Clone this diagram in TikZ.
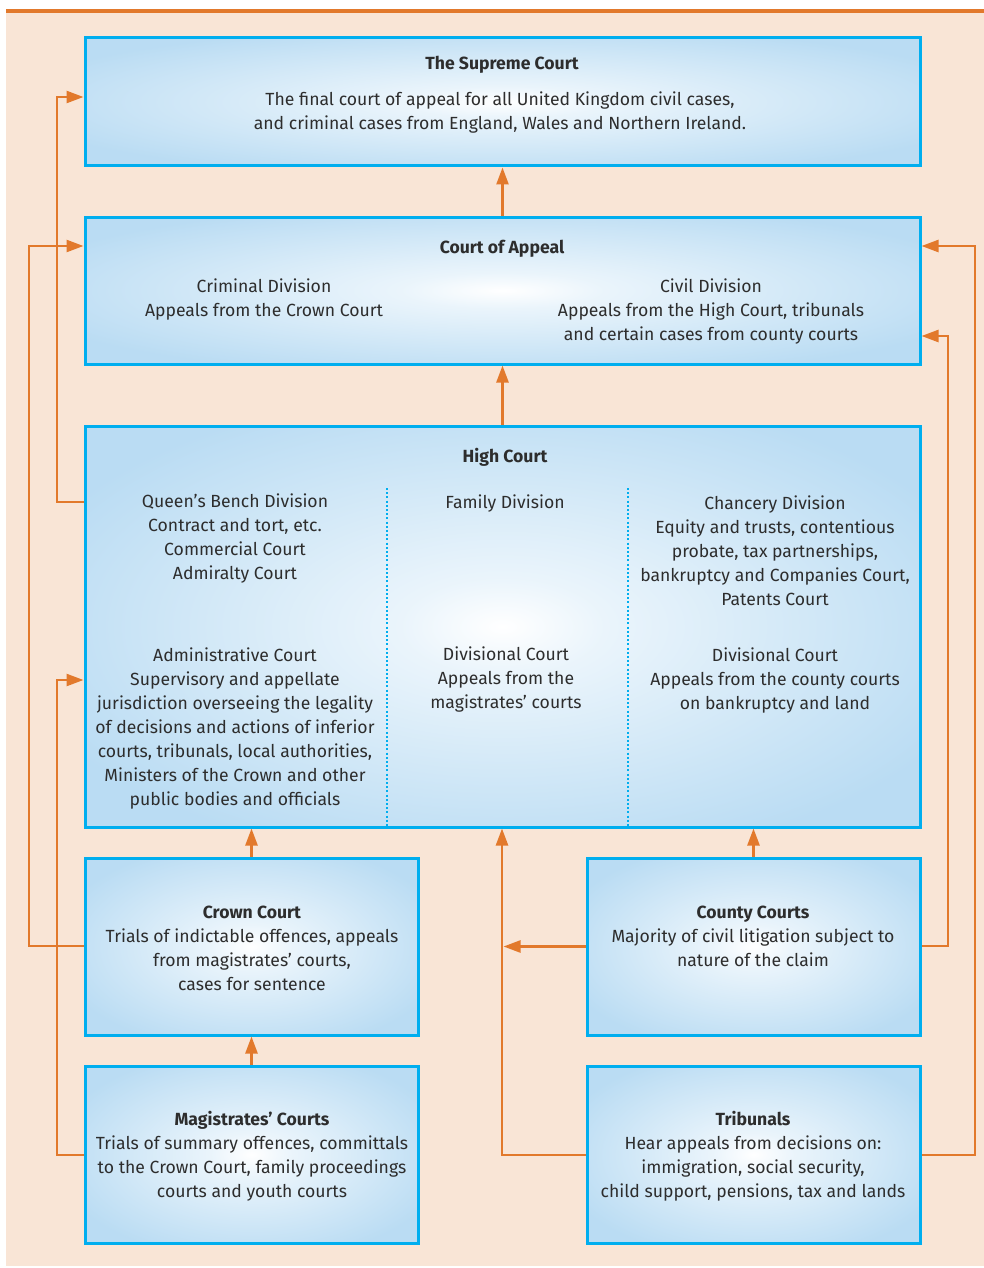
\documentclass[tikz,border=0pt]{standalone}
\usepackage{fontspec}
\setmainfont{Fira Sans}
\usetikzlibrary{arrows.meta}
\definecolor{peach}{RGB}{249,229,214}
\definecolor{corange}{RGB}{226,121,44}
\definecolor{ccyan}{RGB}{0,174,239}
\definecolor{boxblue}{RGB}{186,220,243}
\definecolor{txt}{RGB}{45,45,45}
\pgfdeclareradialshading{boxshade}{\pgfpoint{0bp}{0bp}}{color(0bp)=(white); color(6bp)=(white!70!boxblue); color(30bp)=(boxblue); color(80bp)=(boxblue)}
\begin{document}
\begin{tikzpicture}[x=1pt,y=-1pt,
  font=\fontsize{17.6}{24}\selectfont,
  box/.style={draw=ccyan, line width=3pt, shading=boxshade, inner sep=0pt, rectangle},
  txtn/.style={align=center, text=txt, inner sep=0pt},
  hd/.style={txtn, font=\fontsize{17.6}{24}\selectfont\bfseries},
  arr/.style={draw=corange, line width=2.5pt, -{Triangle[length=17pt,width=12pt]}},
  dots/.style={draw=ccyan, line width=2pt, dash pattern=on 2pt off 2.2pt}]
\useasboundingbox (0,0) rectangle (984,1268);
\fill[peach] (6,13) rectangle (984,1266);
\fill[corange] (6,9) rectangle (984,13);

% boxes
\node[box, minimum width=835pt, minimum height=128pt] (sup) at (502.5,102) {};
\node[box, minimum width=835pt, minimum height=147pt] (coa) at (502.5,290.5) {};
\node[box, minimum width=835pt, minimum height=401pt] (hc) at (502.5,626.5) {};
\node[box, minimum width=333pt, minimum height=177pt] (crown) at (251.5,946.5) {};
\node[box, minimum width=333pt, minimum height=177pt] (county) at (753.5,946.5) {};
\node[box, minimum width=333pt, minimum height=177pt] (mag) at (251.5,1154.5) {};
\node[box, minimum width=333pt, minimum height=177pt] (trib) at (753.5,1154.5) {};

% dotted dividers
\coordinate (d1t) at (387,488);
\coordinate (d2t) at (628,488);
\draw[dots] (d1t) -- (d1t |- hc.south);
\draw[dots] (d2t) -- (d2t |- hc.south);

% texts
\node[hd] (supT) at (502,65) {The Supreme Court};
\node[txtn] (supB) at (500,113) {The final court of appeal for all United Kingdom civil cases,\\and criminal cases from England, Wales and Northern Ireland.};
\node[hd] (coaT) at (502,249) {Court of Appeal};
\node[txtn] (coaL) at (264,300) {Criminal Division\\Appeals from the Crown Court};
\node[txtn] (coaR) at (711,312) {Civil Division\\Appeals from the High Court, tribunals\\and certain cases from county courts};
\node[hd] (hcT) at (505,457) {High Court};
\node[txtn] (qb) at (235,539) {Queen’s Bench Division\\Contract and tort, etc.\\Commercial Court\\Admiralty Court};
\node[txtn] (fam) at (505,504) {Family Division};
\node[txtn] (chan) at (775,551) {Chancery Division\\Equity and trusts, contentious\\probate, tax partnerships,\\bankruptcy and Companies Court,\\Patents Court};
\node[txtn] (adm) at (235,729) {Administrative Court\\Supervisory and appellate\\jurisdiction overseeing the legality\\of decisions and actions of inferior\\courts, tribunals, local authorities,\\Ministers of the Crown and other\\public bodies and officials};
\node[txtn] (divf) at (506,680) {Divisional Court\\Appeals from the\\magistrates’ courts};
\node[txtn] (divc) at (775,681) {Divisional Court\\Appeals from the county courts\\on bankruptcy and land};
\node[txtn] (crownT) at (252,948) {\textbf{Crown Court}\\Trials of indictable offences, appeals\\from magistrates’ courts,\\cases for sentence};
\node[txtn] (countyT) at (753,936) {\textbf{County Courts}\\Majority of civil litigation subject to\\nature of the claim};
\node[txtn] (magT) at (252,1156) {\textbf{Magistrates’ Courts}\\Trials of summary offences, committals\\to the Crown Court, family proceedings\\courts and youth courts};
\node[txtn] (tribT) at (753,1156) {\textbf{Tribunals}\\Hear appeals from decisions on:\\immigration, social security,\\child support, pensions, tax and lands};

% connectors
\draw[arr] (coa.north) -- (sup.south);
\draw[arr] (hc.north) -- (coa.south);
\draw[arr] (crown.north) -- (crown.north |- hc.south);
\draw[arr] (county.north) -- (county.north |- hc.south);
\draw[arr] (mag.north) -- (crown.south);
\draw[arr] (hc.west |- 0,502) -- (57,502) |- (sup.west |- 0,97);
\draw[arr] (crown.west |- 0,946) -- (29,946) |- (coa.west |- 0,246);
\draw[arr] (mag.west |- 0,1155) -- (57,1155) |- (hc.west |- 0,680);
\draw[arr] (trib.east |- 0,1155) -- (975,1155) |- (coa.east |- 0,246);
\draw[arr] (county.east |- 0,946) -- (948,946) |- (coa.east |- 0,336);
\coordinate (mid) at (502,1155);
\draw[arr] (trib.west |- mid) -- (mid) -- (mid |- hc.south);
\coordinate (midc) at (503.5,946.5);
\draw[arr] (county.west) -- (midc);
\end{tikzpicture}
\end{document}
